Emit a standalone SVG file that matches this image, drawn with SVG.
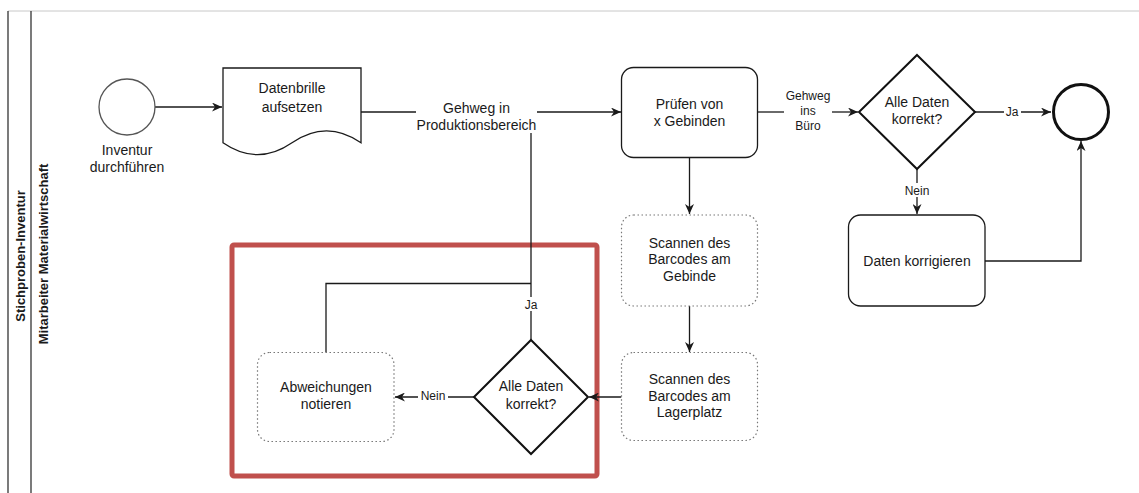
<svg xmlns="http://www.w3.org/2000/svg" width="1139" height="493" viewBox="0 0 1139 493">
<style>
text{font-family:"Liberation Sans",Arial,sans-serif;fill:#1a1a1a;text-anchor:middle}
.n{font-size:14px}
.e{font-size:12px}
.s{font-size:12px}
.b{font-size:13px;font-weight:bold}
.box{fill:#fff;stroke:#1a1a1a;stroke-width:1.3}
.dot{fill:#fff;stroke:#777;stroke-width:1.2;stroke-dasharray:1.5 2.5}
.dia{fill:#fff;stroke:#111;stroke-width:2}
.c{fill:none;stroke:#1a1a1a;stroke-width:1.3}
.lb{fill:#fff}
</style>
<defs>
<marker id="a" markerUnits="userSpaceOnUse" markerWidth="11" markerHeight="9" refX="10" refY="4.5" orient="auto">
<path d="M0,0 L10,4.5 L0,9 L3,4.5 Z" fill="#1a1a1a"/>
</marker>
</defs>
<rect width="1139" height="493" fill="#fff"/>
<g id="pool">
<line x1="8" y1="11" x2="1139" y2="11" stroke="#c8c8c8" stroke-width="1"/>
<line x1="8" y1="11" x2="8" y2="493" stroke="#222" stroke-width="1.2"/>
<line x1="31" y1="11" x2="31" y2="493" stroke="#222" stroke-width="1.2"/>
<text class="b" transform="translate(24.5,256) rotate(-90)">Stichproben-Inventur</text>
<text class="b" transform="translate(47.5,254) rotate(-90)">Mitarbeiter Materialwirtschaft</text>
</g>
<g id="highlight">
<rect x="232" y="245" width="365" height="231" rx="2" fill="none" stroke="#c0504d" stroke-width="5"/>
</g>
<g id="connectors">
<line class="c" x1="155" y1="107" x2="222" y2="107" marker-end="url(#a)"/>
<polyline class="c" points="361,112 416,112"/>
<line class="c" x1="537" y1="112" x2="621" y2="112" marker-end="url(#a)"/>
<text class="n" x="476.5" y="113">Gehweg in</text>
<text class="n" x="476.5" y="130">Produktionsbereich</text>
<line class="c" x1="757" y1="112" x2="784" y2="112"/>
<line class="c" x1="832" y1="112" x2="858" y2="112" marker-end="url(#a)"/>
<text class="e" x="808" y="100.3">Gehweg</text>
<text class="e" x="808" y="115.3">ins</text>
<text class="e" x="808" y="130.3">Büro</text>
<line class="c" x1="975" y1="112" x2="1051" y2="112" marker-end="url(#a)"/>
<rect class="lb" x="1004" y="105" width="17" height="14"/>
<text class="s" x="1012" y="116.3">Ja</text>
<line class="c" x1="917" y1="169" x2="917" y2="214" marker-end="url(#a)"/>
<rect class="lb" x="902" y="183" width="30" height="14"/>
<text class="s" x="917" y="194.5">Nein</text>
<polyline class="c" points="985,261 1081,261 1081,141" marker-end="url(#a)"/>
<line class="c" x1="689.5" y1="158" x2="689.5" y2="214" marker-end="url(#a)"/>
<line class="c" x1="689.5" y1="306" x2="689.5" y2="352" marker-end="url(#a)"/>
<line class="c" x1="621.5" y1="397" x2="589" y2="397" marker-end="url(#a)"/>
<line class="c" x1="474" y1="397" x2="395" y2="397" marker-end="url(#a)"/>
<rect class="lb" x="418" y="390" width="30" height="13"/>
<text class="s" x="433" y="400.3">Nein</text>
<line class="c" x1="531" y1="340" x2="531" y2="133"/>
<rect class="lb" x="522" y="297" width="18" height="14"/>
<text class="s" x="531" y="308.5">Ja</text>
<polyline class="c" points="326,352.5 326,283.5 531,283.5"/>
</g>
<g id="start">
<circle cx="127" cy="107" r="28" fill="#fff" stroke="#555" stroke-width="1.3"/>
<text class="n" x="127" y="155">Inventur</text>
<text class="n" x="127" y="171.5">durchführen</text>
</g>
<g id="datenbrille">
<path class="box" d="M223,68 L361,68 L361,142.8 Q326.5,119 292,142.8 Q257.5,166.6 223,142.8 Z"/>
<text class="n" x="292" y="93.3">Datenbrille</text>
<text class="n" x="292" y="111.7">aufsetzen</text>
</g>
<g id="pruefen">
<rect class="box" x="621.5" y="67.5" width="136" height="90" rx="12"/>
<text class="n" x="689.5" y="108.5">Prüfen von</text>
<text class="n" x="689.5" y="126">x Gebinden</text>
</g>
<g id="entscheidung1">
<polygon class="dia" points="917,55 975,112 917,169 859,112"/>
<text class="n" x="917" y="107">Alle Daten</text>
<text class="n" x="917" y="124.3">korrekt?</text>
</g>
<g id="ende">
<circle cx="1081" cy="112" r="27.5" fill="#fff" stroke="#111" stroke-width="3"/>
</g>
<g id="korrigieren">
<rect class="box" x="848.5" y="215" width="136.5" height="91" rx="12"/>
<text class="n" x="917" y="265.5">Daten korrigieren</text>
</g>
<g id="scannen-gebinde">
<rect class="dot" x="621.5" y="215" width="136" height="91" rx="12"/>
<text class="n" x="689.5" y="247.7">Scannen des</text>
<text class="n" x="689.5" y="264.3">Barcodes am</text>
<text class="n" x="689.5" y="281">Gebinde</text>
</g>
<g id="scannen-lagerplatz">
<rect class="dot" x="621.5" y="352.5" width="136" height="88" rx="12"/>
<text class="n" x="689.5" y="384.3">Scannen des</text>
<text class="n" x="689.5" y="401">Barcodes am</text>
<text class="n" x="689.5" y="417">Lagerplatz</text>
</g>
<g id="entscheidung2">
<polygon class="dia" points="531,340 588,397 531,454 474,397"/>
<text class="n" x="531" y="391">Alle Daten</text>
<text class="n" x="531" y="409">korrekt?</text>
</g>
<g id="abweichungen">
<rect class="dot" x="257.5" y="352.5" width="136.5" height="89" rx="12"/>
<text class="n" x="326" y="391.7">Abweichungen</text>
<text class="n" x="326" y="409">notieren</text>
</g>
</svg>
